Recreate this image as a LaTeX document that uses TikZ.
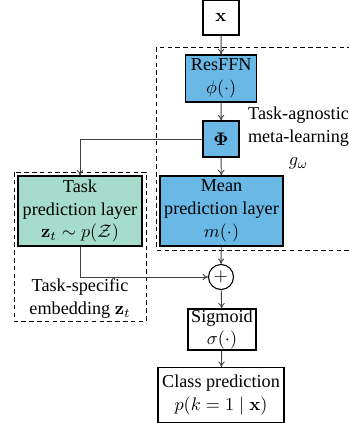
\documentclass[tikz,border=0pt]{standalone}
\usepackage[no-math]{fontspec}
\setmainfont{Liberation Serif}
\usepackage{amsmath}
\usetikzlibrary{arrows.meta}
\definecolor{boxblue}{HTML}{6AB8E6}
\definecolor{boxgreen}{HTML}{A6DCCB}
\begin{document}
\begin{tikzpicture}[x=0.55pt,y=-0.55pt,
  font=\fontsize{10}{12.6}\selectfont,
  blk/.style={draw=black,line width=0.6pt,align=center,inner sep=0pt},
  conn/.style={draw=black!75,line width=0.5pt,-{To[length=3pt,width=3.5pt]}},
  dbox/.style={draw=black,line width=0.5pt,dash pattern=on 2.5pt off 1.8pt}]
\useasboundingbox (0,0) rectangle (349,423);
% dashed groups
\draw[dbox] (156.5,47) rectangle (360,250);
\draw[dbox] (14,172) rectangle (146,321);
% nodes
\node[blk,minimum width=36*0.55pt,minimum height=35*0.55pt] (x) at (221,17.5) {$\mathbf{x}$};
\node[blk,fill=boxblue,minimum width=71*0.55pt,minimum height=47*0.55pt] (res) at (221.2,78.5) {ResFFN\\$\phi(\cdot)$};
\node[blk,fill=boxblue,minimum width=36*0.55pt,minimum height=36*0.55pt] (phi) at (221,139) {$\mathbf{\Phi}$};
\node[blk,fill=boxblue,minimum width=123*0.55pt,minimum height=70*0.55pt] (mean) at (221.5,211) {Mean\\prediction layer\\$m(\cdot)$};
\node[blk,fill=boxgreen,minimum width=124*0.55pt,minimum height=70*0.55pt] (task) at (80,211) {Task\\prediction layer\\$\mathbf{z}_t\sim p(\mathcal{Z})$};
\node[draw=black,line width=0.6pt,circle,minimum size=25*0.55pt,inner sep=0pt] (plus) at (221,277) {$+$};
\node[blk,minimum width=68*0.55pt,minimum height=41*0.55pt] (sig) at (222,329.5) {Sigmoid\\$\sigma(\cdot)$};
\node[blk,minimum width=126*0.55pt,minimum height=55*0.55pt] (cls) at (221,395) {Class prediction\\$p(k=1\mid\mathbf{x})$};
% labels
\node[align=center] (agn) at (298.5,138) {Task-agnostic\\meta-learning\\$g_\omega$};
\node[align=center] (spec) at (80,299) {Task-specific\\embedding $\mathbf{z}_t$};
% connectors
\draw[conn] (x) -- (res);
\draw[conn] (res) -- (phi);
\draw[conn] (phi) -- (mean);
\draw[conn] (phi.west) -| (task.north);
\draw[conn] (task.south) |- (plus.west);
\draw[conn] (mean) -- (plus);
\draw[conn] (plus) -- (sig);
\draw[conn] (sig) -- (cls);
\end{tikzpicture}
\end{document}
